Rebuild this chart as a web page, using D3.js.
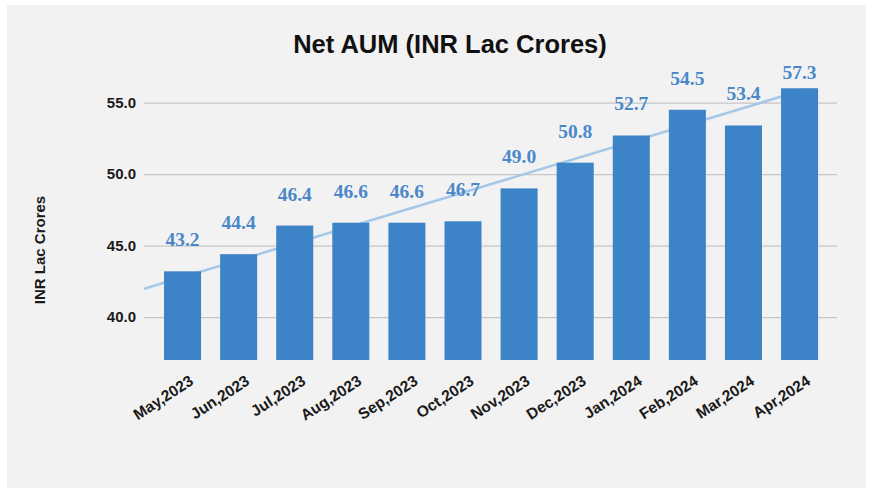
<!DOCTYPE html>
<html lang="en">
<head>
    <meta charset="utf-8" />
    <title>Net AUM (INR Lac Crores)</title>
    <script src="https://d3js.org/d3.v7.min.js"></script>
    <style>
        body { margin: 0; background: #ffffff; }
        svg { display: block; }
    </style>
</head>
<body>
    <script>
        // chart data
        var months = ["May,2023", "Jun,2023", "Jul,2023", "Aug,2023", "Sep,2023", "Oct,2023",
            "Nov,2023", "Dec,2023", "Jan,2024", "Feb,2024", "Mar,2024", "Apr,2024"];
        var aum = [43.2, 44.4, 46.4, 46.6, 46.6, 46.7, 49.0, 50.8, 52.7, 54.5, 53.4, 57.3];
        var yTicks = [40, 45, 50, 55];

        var w = 876;
        var h = 488;
        var svg = d3.select("body").append("svg").attr("width", w).attr("height", h);

        // grey panel
        svg.append("rect").attr("x", 7).attr("y", 5).attr("width", 859).attr("height", 483)
            .style("fill", "#f2f2f2");

        var x = d3.scaleBand().domain(months).range([154.5, 827.6]).paddingInner(0.34).paddingOuter(0.17);
        var y = d3.scaleLinear().domain([37, 56]).range([360, 88.3]);

        svg.append("defs").append("clipPath").attr("id", "plot")
            .append("rect").attr("x", 144).attr("y", 88.3).attr("width", 693).attr("height", 360 - 88.3);

        // title
        svg.append("text").attr("x", 450).attr("y", 53).attr("text-anchor", "middle")
            .style("font-family", "Liberation Sans, Arial, sans-serif").style("font-weight", "bold")
            .style("font-size", "25.5px").style("fill", "#111")
            .text("Net AUM (INR Lac Crores)");

        // y axis with grid lines
        var yAxis = d3.axisLeft(y).tickValues(yTicks).tickFormat(d3.format(".1f"))
            .tickSize(-693).tickPadding(8);
        var gy = svg.append("g").attr("transform", "translate(144,0)").call(yAxis);
        gy.select(".domain").remove();
        gy.selectAll(".tick line").style("stroke", "#c6c6c6").style("stroke-width", 1.3);
        gy.selectAll(".tick text").style("font-family", "Liberation Sans, Arial, sans-serif")
            .style("font-weight", "bold").style("font-size", "15px").style("fill", "#1a1a1a");

        // y axis title
        svg.append("text").attr("transform", "translate(45,250) rotate(-90)").attr("text-anchor", "middle")
            .style("font-family", "Liberation Sans, Arial, sans-serif").style("font-weight", "bold")
            .style("font-size", "15px").style("fill", "#1a1a1a")
            .text("INR Lac Crores");

        // linear trend line (least squares over the month index)
        var mx = d3.mean(aum, function (d, i) { return i; });
        var my = d3.mean(aum);
        var sxy = d3.sum(aum, function (d, i) { return (i - mx) * (d - my); });
        var sxx = d3.sum(aum, function (d, i) { return (i - mx) * (i - mx); });
        var slope = sxy / sxx;
        var icpt = my - slope * mx;
        var step = x.step();
        var c0 = x(months[0]) + x.bandwidth() / 2;
        function trendAt(px) {
            var idx = (px - c0) / step;
            return icpt + slope * idx;
        }
        var line = d3.line().x(function (d) { return d; }).y(function (d) { return y(trendAt(d)); });
        svg.append("path").datum([144, 837]).attr("d", line).attr("clip-path", "url(#plot)")
            .style("fill", "none").style("stroke", "#a4c8e8").style("stroke-width", 2.6);

        // bars
        svg.append("g").attr("clip-path", "url(#plot)").selectAll("rect").data(aum).enter().append("rect")
            .attr("x", function (d, i) { return x(months[i]); })
            .attr("y", function (d) { return y(d); })
            .attr("width", x.bandwidth())
            .attr("height", function (d) { return 360 - y(d); })
            .style("fill", "#3d83c7");

        // value labels
        svg.append("g").selectAll("text").data(aum).enter().append("text")
            .attr("x", function (d, i) { return x(months[i]) + x.bandwidth() / 2; })
            .attr("y", function (d) { return Math.max(y(d) - 25, 79); })
            .attr("text-anchor", "middle")
            .style("font-family", "Liberation Serif, Times New Roman, serif").style("font-weight", "bold")
            .style("font-size", "19.5px").style("fill", "#4a88c9")
            .text(function (d) { return d3.format(".1f")(d); });

        // month labels
        svg.append("g").selectAll("text").data(months).enter().append("text")
            .attr("transform", function (d) {
                return "translate(" + (x(d) + x.bandwidth() / 2 + 9) + ",379) rotate(-33)";
            })
            .attr("dy", "0.35em")
            .attr("text-anchor", "end")
            .style("font-family", "Liberation Sans, Arial, sans-serif").style("font-weight", "bold")
            .style("font-size", "15.5px").style("fill", "#1a1a1a")
            .text(function (d) { return d; });
    </script>
</body>
</html>
